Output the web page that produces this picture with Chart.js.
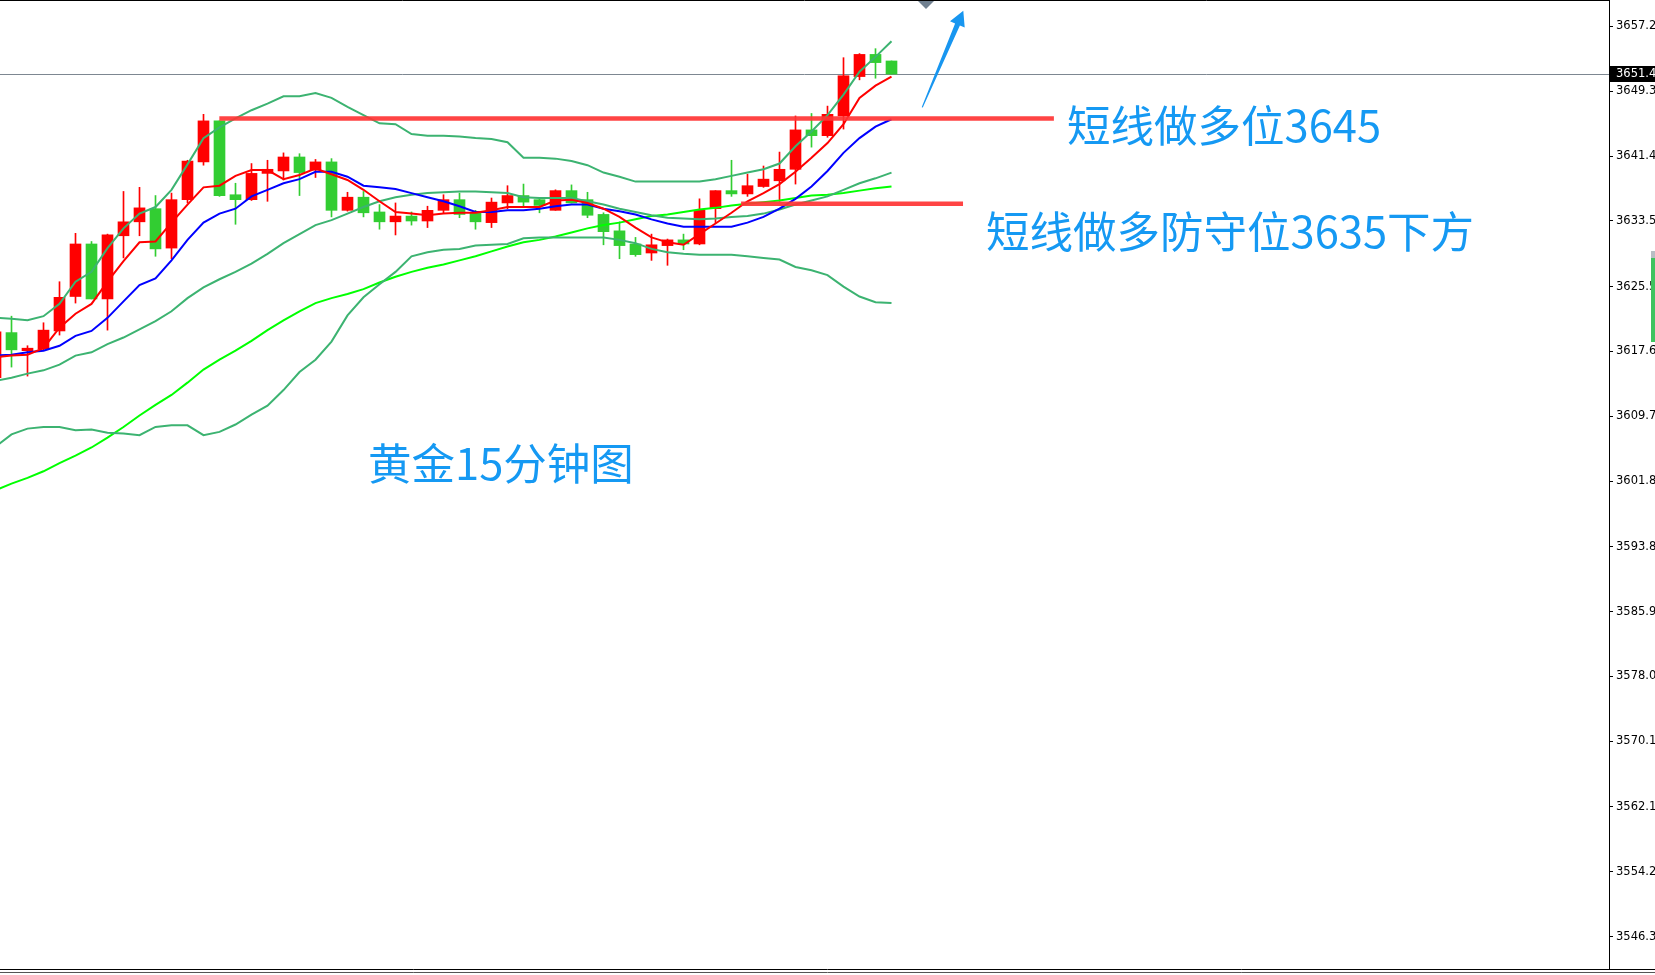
<!DOCTYPE html>
<html>
<head>
<meta charset="utf-8">
<title>黄金15分钟图</title>
<script src="https://cdn.jsdelivr.net/npm/chart.js@4.4.1/dist/chart.umd.min.js"></script>
<style>
  html, body { margin: 0; padding: 0; background: #fff; overflow: hidden; }
  canvas { display: block; }
</style>
</head>
<body>
<canvas id="chart" width="1655" height="975"></canvas>
<script>
// --------------------
// Data
// --------------------
const open  = [3614.4, 3619.9, 3617.7, 3617.9, 3620.1, 3624.3, 3630.7, 3624.0, 3631.7, 3633.4,
               3635.0, 3630.2, 3636.1, 3640.7, 3645.7, 3636.7, 3636.1, 3639.3, 3639.6, 3641.3,
               3639.7, 3640.7, 3634.8, 3636.4, 3634.6, 3633.4, 3634.1, 3633.5, 3634.8, 3636.1,
               3634.5, 3633.3, 3635.7, 3636.6, 3636.1, 3634.8, 3637.2, 3636.1, 3634.3, 3632.3,
               3630.7, 3629.6, 3630.5, 3631.2, 3630.7, 3635.0, 3637.2, 3636.8, 3637.7, 3638.4,
               3639.8, 3644.6, 3643.9, 3646.3, 3651.1, 3653.8, 3653.0];
const high  = [3620.5, 3621.9, 3618.3, 3621.1, 3626.1, 3632.0, 3631.0, 3631.9, 3637.1, 3637.6,
               3636.6, 3636.9, 3640.9, 3646.5, 3645.7, 3638.1, 3640.5, 3640.9, 3641.8, 3641.7,
               3641.0, 3641.1, 3637.0, 3637.1, 3635.5, 3635.7, 3634.6, 3635.3, 3636.7, 3636.9,
               3634.8, 3636.3, 3637.8, 3638.0, 3636.3, 3637.3, 3637.9, 3637.0, 3634.5, 3633.4,
               3631.5, 3631.9, 3631.3, 3631.9, 3636.2, 3637.2, 3640.9, 3639.2, 3640.2, 3641.9,
               3646.3, 3646.6, 3647.5, 3653.4, 3653.9, 3654.5, 3653.0];
const low   = [3613.9, 3615.7, 3614.6, 3617.8, 3619.6, 3623.5, 3624.0, 3620.2, 3629.0, 3631.7,
               3629.2, 3628.9, 3635.7, 3640.3, 3636.5, 3633.1, 3636.0, 3635.9, 3638.5, 3636.6,
               3638.8, 3634.0, 3634.7, 3634.0, 3632.5, 3631.8, 3633.0, 3632.7, 3634.4, 3633.9,
               3632.5, 3632.7, 3635.0, 3635.2, 3634.5, 3634.8, 3635.7, 3633.9, 3630.6, 3628.9,
               3629.2, 3628.7, 3628.1, 3630.0, 3630.6, 3633.3, 3636.5, 3636.5, 3637.6, 3635.9,
               3638.0, 3642.5, 3643.7, 3644.7, 3650.7, 3650.9, 3651.4];
const close = [3620.0, 3617.8, 3618.0, 3620.2, 3624.2, 3630.7, 3624.0, 3631.8, 3633.4, 3635.1,
               3630.1, 3636.1, 3640.8, 3645.7, 3636.6, 3636.1, 3639.3, 3639.8, 3641.3, 3639.4,
               3640.7, 3634.8, 3636.4, 3634.5, 3633.4, 3634.1, 3633.5, 3634.8, 3636.1, 3634.3,
               3633.4, 3635.8, 3636.6, 3635.8, 3635.4, 3637.2, 3635.7, 3634.2, 3632.2, 3630.5,
               3629.4, 3630.6, 3631.2, 3630.7, 3634.8, 3637.2, 3636.8, 3637.8, 3638.6, 3639.8,
               3644.6, 3643.9, 3646.5, 3651.2, 3653.8, 3652.8, 3651.4];

// moving averages (red fast, blue medium, lime slow)
const maFast = [3616.9, 3617.1, 3617.2, 3618.0, 3620.5, 3622.2, 3623.4, 3626.1, 3628.6, 3630.9,
                3631.0, 3633.3, 3635.5, 3637.6, 3637.8, 3639.0, 3639.7, 3639.7, 3638.6, 3639.1,
                3639.9, 3639.2, 3638.5, 3637.3, 3635.9, 3634.6, 3634.4, 3634.2, 3634.4, 3634.5,
                3634.5, 3634.8, 3635.2, 3635.2, 3635.2, 3636.0, 3636.1, 3635.7, 3635.0, 3634.0,
                3632.7, 3631.5, 3630.9, 3630.6, 3631.9, 3633.2, 3634.5, 3635.9, 3636.9, 3638.0,
                3639.5, 3641.2, 3643.0, 3645.3, 3648.5, 3650.0, 3651.1];
const maMid  = [3617.1, 3617.2, 3617.5, 3617.7, 3618.3, 3619.5, 3620.1, 3621.7, 3623.7, 3625.7,
                3626.5, 3628.7, 3631.2, 3633.3, 3634.4, 3635.0, 3636.5, 3637.3, 3638.1, 3638.6,
                3639.5, 3639.5, 3638.9, 3637.8, 3637.6, 3637.4, 3636.9, 3636.4, 3635.9, 3635.3,
                3634.6, 3634.6, 3634.8, 3634.8, 3635.0, 3635.3, 3635.5, 3635.5, 3635.0, 3634.7,
                3634.3, 3633.7, 3633.2, 3632.8, 3632.8, 3632.8, 3632.8, 3633.3, 3634.0, 3635.0,
                3636.2, 3637.7, 3639.6, 3641.8, 3643.6, 3645.0, 3645.9];
const maSlow = [3600.7, 3601.5, 3602.2, 3603.0, 3604.0, 3604.9, 3605.9, 3607.1, 3608.4, 3609.8,
                3611.1, 3612.3, 3613.8, 3615.4, 3616.6, 3617.7, 3618.9, 3620.2, 3621.4, 3622.5,
                3623.5, 3624.1, 3624.6, 3625.2, 3626.0, 3626.7, 3627.3, 3627.8, 3628.2, 3628.7,
                3629.2, 3629.8, 3630.4, 3630.9, 3631.2, 3631.6, 3632.1, 3632.6, 3633.0, 3633.3,
                3633.7, 3634.1, 3634.3, 3634.6, 3634.9, 3635.1, 3635.4, 3635.6, 3635.8, 3636.0,
                3636.3, 3636.6, 3636.7, 3636.9, 3637.2, 3637.5, 3637.7];

// bollinger bands
const bbUpper = [3621.7, 3621.6, 3621.4, 3621.9, 3623.4, 3626.1, 3627.3, 3630.2, 3632.6, 3634.4,
                 3635.2, 3637.3, 3640.4, 3643.6, 3644.9, 3646.0, 3647.0, 3647.8, 3648.7, 3648.7,
                 3649.1, 3648.5, 3647.4, 3646.4, 3645.4, 3645.3, 3644.1, 3643.9, 3643.9, 3643.8,
                 3643.6, 3643.5, 3643.1, 3641.2, 3641.2, 3641.1, 3640.8, 3640.3, 3639.4, 3638.9,
                 3638.3, 3638.3, 3638.3, 3638.3, 3638.3, 3638.6, 3639.0, 3639.4, 3639.8, 3640.5,
                 3642.6, 3644.4, 3646.4, 3648.9, 3651.7, 3653.5, 3655.4];
const bbMid   = [3614.0, 3614.4, 3614.9, 3615.3, 3616.0, 3617.1, 3617.5, 3618.5, 3619.3, 3620.3,
                 3621.3, 3622.5, 3624.1, 3625.4, 3626.4, 3627.3, 3628.3, 3629.5, 3630.8, 3631.9,
                 3633.0, 3633.6, 3634.4, 3635.2, 3635.9, 3636.4, 3636.7, 3636.9, 3637.0, 3637.1,
                 3637.1, 3637.0, 3636.9, 3636.4, 3636.3, 3636.3, 3636.3, 3635.9, 3635.5, 3635.0,
                 3634.6, 3634.2, 3633.9, 3633.8, 3633.7, 3633.8, 3634.0, 3634.1, 3634.4, 3634.9,
                 3635.5, 3636.0, 3636.5, 3637.3, 3638.1, 3638.7, 3639.4];
const bbLower = [3606.0, 3607.5, 3608.2, 3608.4, 3608.4, 3608.0, 3608.1, 3607.7, 3607.6, 3607.4,
                 3608.4, 3608.6, 3608.6, 3607.4, 3607.8, 3608.7, 3609.9, 3611.0, 3612.9, 3615.1,
                 3616.6, 3618.8, 3622.0, 3624.2, 3625.8, 3627.3, 3629.2, 3629.7, 3630.0, 3630.1,
                 3630.5, 3630.6, 3630.7, 3631.4, 3631.5, 3631.5, 3631.5, 3631.5, 3631.5, 3631.2,
                 3630.8, 3630.1, 3629.7, 3629.5, 3629.4, 3629.4, 3629.4, 3629.2, 3629.0, 3628.8,
                 3627.9, 3627.5, 3626.9, 3625.5, 3624.3, 3623.6, 3623.5];

// price axis
const yTickLabels = ['3657.2', '3649.3', '3641.4', '3633.5', '3625.5', '3617.6', '3609.7', '3601.8',
                     '3593.8', '3585.9', '3578.0', '3570.1', '3562.1', '3554.2', '3546.3'];
const lastPrice = 3651.4;

// hand drawn support lines: price, first bar, last bar
const levelPrices = [3646.0, 3635.6];
const levelFrom   = [13.99, 46.6];
const levelTo     = [66.15, 60.47];

const bars = open.map((_, i) => i);

// --------------------
// Chart
// --------------------
const UP = '#ff0000';
const DOWN = '#32cd32';
const candleColors = bars.map(i => close[i] >= open[i] ? UP : DOWN);

function lineSet(values, color, width, order) {
    return {
        type: 'line',
        data: bars.map(i => ({ x: i, y: values[i] })),
        borderColor: color,
        borderWidth: width,
        pointRadius: 0,
        tension: 0,
        order
    };
}

const datasets = [];

levelPrices.forEach((p, k) => {
    datasets.push({
        type: 'line',
        data: [{ x: levelFrom[k], y: p }, { x: levelTo[k], y: p }],
        borderColor: 'rgba(255, 52, 52, 0.92)',
        borderWidth: 4.5,
        pointRadius: 0,
        order: 0
    });
});

datasets.push(lineSet(maFast, '#ff0000', 2, 1));
datasets.push(lineSet(maMid, '#0000ff', 2, 2));
datasets.push(lineSet(bbUpper, '#3cb371', 2, 3));
datasets.push(lineSet(bbMid, '#3cb371', 2, 3));
datasets.push(lineSet(bbLower, '#3cb371', 2, 3));
datasets.push(lineSet(maSlow, '#00ff00', 2, 4));

// candle bodies
datasets.push({
    type: 'bar',
    data: bars.map(i => ({ x: i, y: [open[i], close[i]] })),
    backgroundColor: candleColors,
    borderWidth: 0,
    barThickness: 11,
    minBarLength: 1,
    grouped: false,
    order: 10
});
// wicks
datasets.push({
    type: 'bar',
    data: bars.map(i => ({ x: i, y: [low[i], high[i]] })),
    backgroundColor: candleColors,
    borderWidth: 0,
    barThickness: 1,
    grouped: false,
    order: 11
});

const annotations = {
    id: 'annotations',
    beforeDatasetsDraw(chart) {
        const { ctx, chartArea, scales: { y } } = chart;
        const py = Math.round(y.getPixelForValue(lastPrice)) + 0.5;
        ctx.save();
        ctx.strokeStyle = '#7d8791';
        ctx.lineWidth = 1;
        ctx.beginPath();
        ctx.moveTo(chartArea.left, py);
        ctx.lineTo(chartArea.right, py);
        ctx.stroke();
        ctx.restore();
    },
    afterDatasetsDraw(chart) {
        const { ctx } = chart;
        ctx.save();

        // text notes
        ctx.fillStyle = '#1599f3';
        ctx.font = '43.5px "Noto Sans CJK SC"';
        ctx.textBaseline = 'alphabetic';
        ctx.textAlign = 'left';
        ctx.fillText('短线做多位3645', 1067, 142);
        ctx.fillText('短线做多防守位3635下方', 986, 247.5);
        ctx.fillText('黄金15分钟图', 368, 480);

        // blue arrow
        ctx.fillStyle = '#1896f0';
        ctx.beginPath();
        ctx.moveTo(921.7, 107.3);
        ctx.lineTo(955.1, 23.5);
        ctx.lineTo(950.0, 21.3);
        ctx.lineTo(963.3, 10.7);
        ctx.lineTo(964.7, 27.6);
        ctx.lineTo(959.9, 25.6);
        ctx.lineTo(922.8, 107.6);
        ctx.closePath();
        ctx.fill();

        // chart shift marker
        ctx.fillStyle = '#708090';
        ctx.beginPath();
        ctx.moveTo(918, 1);
        ctx.lineTo(934, 1);
        ctx.lineTo(926, 9);
        ctx.closePath();
        ctx.fill();
        ctx.restore();
    },
    afterDraw(chart) {
        const { ctx, chartArea, scales: { y } } = chart;
        ctx.save();

        // frame
        ctx.strokeStyle = '#000';
        ctx.lineWidth = 1;
        ctx.beginPath();
        ctx.moveTo(0, 0.5);
        ctx.lineTo(chartArea.right, 0.5);
        ctx.moveTo(0, chartArea.bottom + 0.5);
        ctx.lineTo(chart.width, chartArea.bottom + 0.5);
        ctx.stroke();
        ctx.strokeStyle = '#555';
        ctx.beginPath();
        ctx.moveTo(0, chartArea.bottom + 3.5);
        ctx.lineTo(chart.width, chartArea.bottom + 3.5);
        ctx.stroke();

        // last price tag
        const py = Math.round(y.getPixelForValue(lastPrice));
        ctx.fillStyle = '#000';
        ctx.fillRect(chartArea.right + 1, py - 8, 46, 16);
        ctx.fillStyle = '#fff';
        ctx.font = '11.5px "DejaVu Sans"';
        ctx.textBaseline = 'middle';
        ctx.fillText(lastPrice.toFixed(1), chartArea.right + 7, py);

        // bit of a window at the right edge
        ctx.fillStyle = '#b8bec4';
        ctx.fillRect(1651, 251, 4, 7);
        ctx.fillStyle = '#3fc35f';
        ctx.fillRect(1651, 258, 4, 84);
        ctx.restore();
    }
};

new Chart(document.getElementById('chart'), {
    data: { datasets },
    options: {
        responsive: false,
        animation: false,
        events: [],
        layout: { padding: { left: 0, right: 0, top: 0, bottom: 6 } },
        plugins: { legend: { display: false }, tooltip: { enabled: false } },
        scales: {
            x: {
                type: 'linear',
                min: 0.28125,
                max: 100.84375,
                offset: false,
                bounds: 'data',
                display: false
            },
            y: {
                type: 'linear',
                position: 'right',
                min: 3542.35,
                max: 3660.43,
                afterFit(scale) {
                    scale.width = 46;
                    scale.paddingTop = 0;
                    scale.paddingBottom = 0;
                },
                afterBuildTicks(scale) {
                    scale.ticks = yTickLabels.map(t => ({ value: parseFloat(t) }));
                },
                ticks: {
                    autoSkip: false,
                    maxRotation: 0,
                    padding: 3,
                    color: '#000',
                    font: { family: 'DejaVu Sans', size: 11.5 },
                    callback: (v, i) => yTickLabels[i]
                },
                grid: { drawOnChartArea: false, drawTicks: true, tickLength: 4, color: '#000' },
                border: { display: true, color: '#000', width: 1 }
            }
        }
    },
    plugins: [annotations]
});
</script>
</body>
</html>
